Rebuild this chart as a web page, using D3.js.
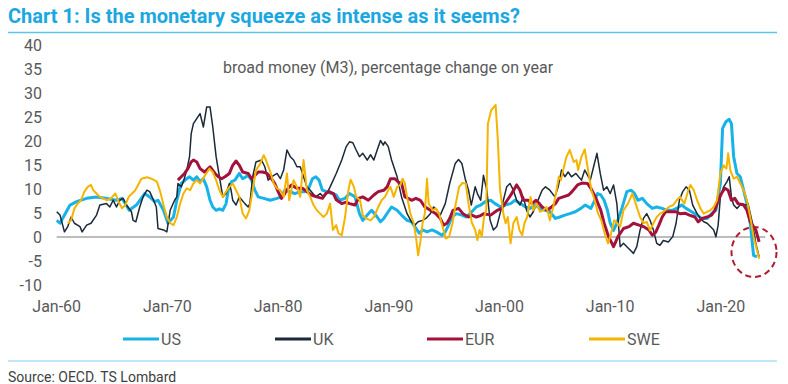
<!DOCTYPE html>
<html>
<head>
<meta charset="utf-8">
<script src="https://cdn.jsdelivr.net/npm/d3@7"></script>
<style>
  body { margin: 0; background: #fff; }
  text { font-family: Roboto, "Liberation Sans", sans-serif; }
</style>
</head>
<body>
<div id="chart"></div>
<script>
// Подписи осей
const tickYears = [1960, 1970, 1980, 1990, 2000, 2010, 2020];
const tickLabels = ["Jan-60", "Jan-70", "Jan-80", "Jan-90", "Jan-00", "Jan-10", "Jan-20"];
const yTicks = [-10, -5, 0, 5, 10, 15, 20, 25, 30, 35, 40];
const seriesNames = ["US", "UK", "EUR", "SWE"];

// Данные: [год, % г/г]
const usData = [
  [1960.0,3.5],[1960.3,2.9],[1961.2,6.7],[1961.8,7.4],[1962.7,8.1],[1963.6,8.4],[1964.4,8.1],[1965.4,7.7],
  [1965.9,8.1],[1966.55,5.6],[1967.2,6.7],[1967.95,9.1],[1968.4,8.4],[1968.85,7.4],[1969.15,7.7],[1969.65,5.6],
  [1970.05,2.9],[1970.55,4.2],[1970.85,7.7],[1971.25,11.2],[1971.75,12.2],[1972.0,12.6],[1972.35,11.9],
  [1972.65,12.6],[1972.95,11.6],[1973.25,12.2],[1973.55,10.5],[1973.85,7.7],[1974.1,6.3],[1974.4,5.6],
  [1974.7,5.9],[1975.0,5.6],[1975.3,7.0],[1975.5,9.8],[1975.8,11.6],[1976.1,11.9],[1976.5,13.3],[1976.8,12.2],
  [1977.3,12.9],[1977.6,11.9],[1977.9,9.8],[1978.2,8.4],[1978.7,8.1],[1979.3,7.7],[1979.9,8.1],[1980.3,8.4],
  [1980.6,9.8],[1981.1,9.5],[1981.5,9.1],[1982.0,9.5],[1982.4,9.5],[1982.7,9.8],[1983.1,12.2],[1983.4,12.6],
  [1983.7,11.9],[1984.0,9.8],[1984.4,9.5],[1984.85,9.1],[1985.25,8.8],[1985.55,7.7],[1986.05,8.1],[1986.45,9.1],
  [1986.95,8.4],[1987.35,4.9],[1987.65,3.5],[1988.05,4.6],[1988.45,5.6],[1988.95,4.2],[1989.25,3.2],[1989.55,3.9],
  [1989.95,5.3],[1990.25,6.3],[1990.75,5.6],[1991.15,4.6],[1991.65,3.5],[1992.05,3.2],[1992.35,2.2],[1992.75,0.8],
  [1993.05,1.5],[1993.45,1.1],[1993.9,1.5],[1994.3,1.1],[1994.8,0.4],[1995.1,1.1],[1995.4,2.5],[1995.7,4.2],
  [1996.1,4.9],[1996.6,4.6],[1997.0,4.2],[1997.5,5.3],[1997.9,6.3],[1998.3,6.7],[1998.7,7.4],[1999.2,7.7],
  [1999.6,7.0],[2000.1,6.3],[2000.5,6.7],[2001.0,7.0],[2001.4,7.7],[2001.9,7.0],[2002.35,6.3],[2002.75,6.0],
  [2003.25,6.7],[2003.65,6.0],[2004.15,5.6],[2004.55,5.3],[2005.05,3.9],[2005.45,4.2],[2005.9,4.6],[2006.35,4.9],
  [2006.85,5.3],[2007.35,6.0],[2007.75,6.7],[2008.25,6.0],[2008.55,7.4],[2008.85,9.1],[2009.15,8.8],[2009.45,7.7],
  [2009.75,5.6],[2010.0,2.9],[2010.3,1.4],[2010.6,2.9],[2011.0,5.6],[2011.5,9.5],[2011.9,9.8],[2012.2,9.1],
  [2012.5,7.7],[2012.9,8.1],[2013.3,7.0],[2013.8,6.0],[2014.2,6.3],[2014.7,6.0],[2015.1,5.6],[2015.6,5.6],
  [2016.0,6.0],[2016.45,6.7],[2016.85,6.0],[2017.35,5.3],[2017.85,4.6],[2018.25,3.9],[2018.75,3.9],[2019.15,4.9],
  [2019.55,5.6],[2019.95,11.2],[2020.15,22.7],[2020.45,24.1],[2020.75,24.6],[2020.95,23.7],[2021.15,16.8],
  [2021.45,13.3],[2021.75,12.6],[2022.05,9.8],[2022.35,7.0],[2022.65,2.9],[2022.95,-3.8],[2023.25,-4.1]
];

const ukData = [
  [1960.0,5.3],[1960.3,4.6],[1960.7,1.1],[1961.0,2.2],[1961.3,4.2],[1961.6,2.9],[1962.1,2.2],[1962.3,1.1],
  [1962.7,2.5],[1963.1,2.9],[1963.6,4.6],[1963.9,6.7],[1964.5,7.0],[1964.8,6.3],[1965.1,7.7],[1965.4,6.3],
  [1965.7,7.7],[1966.0,8.1],[1966.3,6.7],[1966.75,5.3],[1966.9,3.5],[1967.15,3.2],[1967.5,6.3],[1967.8,8.4],
  [1968.15,9.8],[1968.4,9.5],[1968.75,7.7],[1969.0,6.3],[1969.15,1.8],[1969.65,1.5],[1969.95,1.1],[1970.25,5.6],
  [1970.65,7.7],[1970.85,8.4],[1970.95,11.2],[1971.25,10.5],[1971.45,11.6],[1971.75,14.0],[1972.0,16.8],
  [1972.15,21.6],[1972.35,23.7],[1972.95,25.8],[1973.25,23.0],[1973.55,27.2],[1973.85,27.2],[1974.1,23.0],
  [1974.4,16.8],[1974.7,12.6],[1974.9,9.8],[1975.0,8.4],[1975.3,9.1],[1975.6,11.2],[1975.75,9.8],[1975.9,7.7],
  [1976.2,6.7],[1976.5,8.4],[1977.0,7.0],[1977.3,6.3],[1977.45,7.0],[1977.7,12.6],[1978.0,15.7],[1978.5,16.1],
  [1978.8,14.7],[1979.1,11.9],[1979.4,12.6],[1979.9,13.3],[1980.2,12.2],[1980.5,14.0],[1980.8,18.2],[1981.1,16.8],
  [1981.4,16.1],[1981.7,14.7],[1982.0,14.7],[1982.3,12.6],[1982.6,10.5],[1982.9,9.8],[1983.4,8.4],[1983.8,9.1],
  [1984.1,8.4],[1984.4,9.1],[1984.7,10.5],[1985.25,13.3],[1985.75,16.1],[1986.15,18.9],[1986.45,19.9],
  [1986.75,19.7],[1987.05,18.2],[1987.35,16.8],[1987.65,17.5],[1988.05,16.1],[1988.35,17.2],[1988.65,16.1],
  [1988.95,18.2],[1989.25,20.2],[1989.5,19.2],[1989.65,19.9],[1989.95,18.9],[1990.25,16.1],[1990.75,12.6],
  [1991.15,8.4],[1991.65,4.9],[1992.05,3.2],[1992.35,2.5],[1992.65,3.2],[1993.05,3.5],[1993.35,3.9],[1993.75,4.9],
  [1994.05,6.3],[1994.35,5.6],[1994.65,4.6],[1995.1,7.0],[1995.5,11.2],[1996.0,15.4],[1996.3,16.2],[1996.6,15.4],
  [1996.9,12.2],[1997.2,9.8],[1997.45,6.7],[1997.8,10.5],[1998.0,9.1],[1998.3,7.7],[1998.55,12.9],[1998.85,9.8],
  [1999.15,3.5],[1999.45,1.5],[1999.75,2.2],[2000.05,4.9],[2000.35,7.7],[2000.65,10.5],[2000.95,11.2],
  [2001.25,9.8],[2001.55,7.7],[2001.85,6.7],[2002.15,8.4],[2002.45,5.6],[2002.75,4.2],[2003.05,5.3],[2003.35,7.0],
  [2003.85,9.8],[2004.15,10.5],[2004.55,9.8],[2005.0,8.4],[2005.3,10.5],[2005.6,14.0],[2005.9,12.6],[2006.2,13.6],
  [2006.5,12.6],[2006.9,13.3],[2007.4,11.9],[2007.7,14.0],[2008.2,11.9],[2008.5,14.7],[2008.8,17.5],[2009.1,13.3],
  [2009.4,9.8],[2009.7,10.5],[2010.0,9.1],[2010.3,10.9],[2010.6,7.0],[2010.9,-2.0],[2011.2,-1.3],[2011.5,-2.0],
  [2011.8,-2.7],[2012.1,-3.4],[2012.4,-2.0],[2012.7,1.5],[2013.0,3.9],[2013.3,4.9],[2013.6,3.5],[2013.9,1.5],
  [2014.2,-1.3],[2014.5,-1.7],[2014.8,-0.7],[2015.25,-1.0],[2015.65,0.1],[2015.95,2.9],[2016.25,7.7],
  [2016.55,9.5],[2016.85,10.5],[2017.15,9.8],[2017.45,6.7],[2017.85,4.9],[2018.15,3.9],[2018.45,3.2],
  [2018.75,2.9],[2019.05,2.2],[2019.35,1.5],[2019.55,0.1],[2019.75,2.5],[2019.95,8.4],[2020.25,10.5],
  [2020.55,11.6],[2020.75,12.6],[2020.95,8.4],[2021.15,6.7],[2021.45,6.0],[2021.85,7.0],[2022.25,6.7],
  [2022.45,7.0],[2022.85,2.9],[2023.15,-1.3],[2023.45,-4.1]
];

const eurData = [
  [1970.95,11.9],[1971.25,12.6],[1971.55,13.3],[1971.85,14.3],[1972.15,15.7],[1972.35,16.1],[1972.65,15.7],
  [1972.95,14.3],[1973.35,13.6],[1973.85,14.7],[1974.3,13.3],[1974.6,12.6],[1974.9,12.2],[1975.2,12.6],
  [1975.6,13.3],[1975.9,15.0],[1976.2,15.9],[1976.5,15.0],[1976.8,13.6],[1977.3,13.3],[1977.6,12.2],[1977.9,12.9],
  [1978.2,13.6],[1978.6,13.6],[1979.0,13.3],[1979.4,12.2],[1979.7,11.2],[1980.0,9.5],[1980.3,8.1],[1980.6,9.1],
  [1980.9,10.2],[1981.2,10.9],[1981.7,10.2],[1982.2,10.2],[1982.6,9.5],[1983.0,8.8],[1983.5,8.4],[1984.0,8.1],
  [1984.3,9.1],[1984.6,9.5],[1985.0,9.1],[1985.25,7.8],[1985.75,7.0],[1986.15,7.3],[1986.45,7.0],[1986.95,6.7],
  [1987.25,8.1],[1987.65,8.4],[1988.15,7.7],[1988.65,8.8],[1989.05,9.5],[1989.55,9.8],[1989.85,10.5],
  [1990.15,12.2],[1990.55,12.2],[1990.85,11.5],[1991.15,11.2],[1991.45,8.4],[1991.75,8.1],[1992.05,7.7],
  [1992.45,8.1],[1992.85,7.7],[1993.25,6.3],[1993.5,6.0],[1993.75,5.6],[1994.25,4.9],[1994.65,3.9],[1994.95,2.5],
  [1995.25,2.9],[1995.5,3.9],[1995.8,5.6],[1996.3,6.0],[1996.7,4.9],[1997.2,4.2],[1997.5,4.6],[1997.9,4.2],
  [1998.3,4.5],[1998.6,4.9],[1999.2,4.6],[1999.8,5.6],[2000.2,6.0],[2000.7,7.7],[2001.1,9.1],[2001.55,10.9],
  [2001.85,9.8],[2002.15,7.7],[2002.6,7.7],[2002.95,7.0],[2003.3,7.7],[2003.6,7.0],[2003.85,6.3],[2004.3,5.6],
  [2004.7,6.3],[2005.05,7.0],[2005.35,8.1],[2005.75,8.4],[2006.25,8.8],[2006.55,9.5],[2007.05,10.9],
  [2007.45,11.3],[2007.95,11.2],[2008.25,10.2],[2008.65,8.4],[2009.15,5.6],[2009.45,2.9],[2009.85,0.1],
  [2010.3,-2.0],[2010.7,0.1],[2011.2,1.8],[2011.7,2.2],[2012.1,2.9],[2012.6,2.5],[2013.0,2.2],[2013.5,1.5],
  [2013.8,0.4],[2014.1,1.0],[2014.4,2.5],[2014.7,4.2],[2015.0,5.3],[2015.5,5.3],[2015.9,5.3],[2016.3,4.9],
  [2016.75,5.0],[2017.15,4.6],[2017.65,4.2],[2017.95,3.2],[2018.3,3.9],[2018.75,4.2],[2019.15,4.6],[2019.45,5.6],
  [2019.75,7.7],[2020.05,9.1],[2020.35,10.2],[2020.65,9.8],[2020.95,7.7],[2021.25,8.1],[2021.55,7.0],
  [2022.05,6.7],[2022.35,5.6],[2022.65,3.2],[2023.15,1.5],[2023.45,-1.0]
];

const sweData = [
  [1961.0,2.9],[1961.3,3.5],[1961.6,6.0],[1961.9,7.0],[1962.2,7.7],[1962.5,9.5],[1962.8,10.5],[1963.1,10.9],
  [1963.3,9.8],[1963.6,9.1],[1963.9,8.4],[1964.2,8.1],[1964.5,7.7],[1964.9,8.1],[1965.3,9.1],[1965.6,7.4],
  [1965.9,6.0],[1966.2,6.7],[1966.5,8.4],[1966.8,9.1],[1967.1,9.8],[1967.35,10.9],[1967.65,12.2],[1968.15,12.5],
  [1968.55,12.2],[1969.05,11.6],[1969.35,9.5],[1969.65,6.7],[1969.95,4.2],[1970.25,2.9],[1970.55,2.5],
  [1970.85,4.2],[1971.15,7.0],[1971.45,9.1],[1971.75,10.2],[1972.05,9.8],[1972.35,11.2],[1972.65,11.9],
  [1972.95,11.2],[1973.4,12.9],[1973.8,14.3],[1974.1,13.6],[1974.4,11.9],[1974.7,9.8],[1975.0,8.4],[1975.3,9.5],
  [1975.6,10.5],[1975.9,11.2],[1976.2,9.8],[1976.5,8.4],[1976.8,4.9],[1977.1,3.9],[1977.4,5.6],[1977.7,9.8],
  [1978.0,14.0],[1978.4,15.4],[1978.7,17.1],[1978.9,16.1],[1979.3,13.6],[1979.6,11.2],[1979.9,10.2],[1980.2,9.8],
  [1980.5,8.4],[1980.8,13.3],[1981.0,7.7],[1981.4,11.9],[1981.7,10.5],[1982.0,8.4],[1982.3,16.1],[1982.6,9.8],
  [1982.9,8.4],[1983.2,6.7],[1983.5,5.6],[1983.8,4.9],[1984.1,4.2],[1984.4,4.9],[1984.7,7.0],[1984.95,1.5],
  [1985.25,2.5],[1985.45,0.8],[1985.75,0.4],[1986.05,4.2],[1986.35,9.8],[1986.55,12.0],[1986.85,10.5],
  [1987.05,8.4],[1987.4,7.7],[1987.65,4.6],[1987.95,3.9],[1988.35,3.5],[1988.65,4.2],[1989.05,6.3],[1989.35,7.7],
  [1989.65,8.4],[1989.95,9.8],[1990.15,10.5],[1990.45,8.4],[1990.75,10.5],[1991.05,10.9],[1991.25,12.2],
  [1991.45,11.2],[1991.65,8.4],[1991.95,4.9],[1992.25,2.9],[1992.45,0.1],[1992.65,-3.8],[1992.85,-1.0],
  [1993.05,2.9],[1993.25,4.9],[1993.45,12.2],[1993.6,7.0],[1993.95,5.6],[1994.25,6.0],[1994.55,4.9],[1994.85,2.2],
  [1995.15,-0.3],[1995.45,0.1],[1995.75,2.9],[1996.05,7.0],[1996.35,10.5],[1996.65,11.3],[1996.95,11.2],
  [1997.2,7.0],[1997.5,3.0],[1997.8,1.5],[1998.0,-0.6],[1998.2,1.5],[1998.4,0.1],[1998.6,4.2],[1998.8,5.6],
  [1998.95,23.7],[1999.25,26.5],[1999.65,27.6],[1999.85,20.2],[2000.05,9.8],[2000.35,4.9],[2000.55,2.9],
  [2000.75,4.2],[2001.0,-1.3],[2001.25,2.9],[2001.55,4.2],[2001.8,1.5],[2002.05,0.4],[2002.25,2.9],[2002.5,4.2],
  [2002.8,8.4],[2003.05,5.6],[2003.35,7.0],[2003.65,5.3],[2003.95,5.6],[2004.25,6.3],[2004.55,3.5],[2004.85,6.3],
  [2005.15,9.8],[2005.35,12.6],[2005.55,11.9],[2005.75,14.0],[2006.05,16.8],[2006.35,18.2],[2006.7,15.7],
  [2006.95,16.1],[2007.1,14.0],[2007.4,16.8],[2007.7,18.3],[2008.0,14.0],[2008.3,9.8],[2008.6,7.7],[2008.9,4.9],
  [2009.2,3.5],[2009.5,0.8],[2009.8,-1.3],[2010.05,0.5],[2010.35,3.5],[2010.6,3.0],[2010.9,2.2],[2011.2,5.6],
  [2011.6,7.0],[2012.0,9.1],[2012.3,7.0],[2012.7,4.2],[2013.0,2.9],[2013.3,3.2],[2013.6,1.4],[2013.9,2.9],
  [2014.2,4.2],[2014.5,4.9],[2014.8,5.3],[2015.3,6.3],[2015.7,6.7],[2016.0,7.7],[2016.3,8.4],[2016.7,7.0],
  [2017.05,9.8],[2017.25,10.9],[2017.55,9.8],[2017.85,7.7],[2018.15,6.0],[2018.45,4.9],[2018.75,5.3],
  [2019.05,5.6],[2019.35,6.3],[2019.65,7.7],[2019.95,13.3],[2020.25,15.0],[2020.5,14.3],[2020.65,17.5],
  [2020.85,14.0],[2021.15,12.2],[2021.45,12.6],[2021.75,11.2],[2022.05,9.8],[2022.35,7.7],[2022.65,4.2],
  [2022.95,0.1],[2023.45,-4.5]
];

const seriesData = [usData, ukData, eurData, sweData];
const seriesColors = ["#17b2e8", "#1b2939", "#a3123a", "#f5b400"];
const seriesWidths = [3, 1.5, 3, 2];

function drawChart() {
  const width = 788;
  const height = 384;

  const svg = d3.select("#chart")
    .append("svg")
    .attr("width", width)
    .attr("height", height);

  // Заголовок
  svg.append("text")
    .attr("x", 8)
    .attr("y", 23)
    .attr("fill", "#1ba7e1")
    .style("font-size", "20px")
    .style("font-weight", "700")
    .text("Chart 1: Is the monetary squeeze as intense as it seems?");

  svg.append("line")
    .attr("x1", 8).attr("x2", 777)
    .attr("y1", 32.5).attr("y2", 32.5)
    .attr("stroke", "#5cc3ea")
    .attr("stroke-width", 1.5);

  // Шкалы
  const x = d3.scaleLinear().domain([1960, 2024]).range([56.7, 765.2]);
  const y = d3.scaleLinear().domain([-10, 40]).range([285, 45.6]);

  // Подзаголовок
  svg.append("text")
    .attr("x", 388)
    .attr("y", 73)
    .attr("text-anchor", "middle")
    .attr("fill", "#595959")
    .style("font-size", "16px")
    .text("broad money (M3), percentage change on year");

  // Ось Y
  svg.append("g")
    .selectAll("text")
    .data(yTicks)
    .enter()
    .append("text")
    .attr("x", 42)
    .attr("y", d => y(d))
    .attr("dy", "0.35em")
    .attr("text-anchor", "end")
    .attr("fill", "#595959")
    .style("font-size", "16px")
    .text(d => d);

  // Ось X: линия нуля и подписи
  svg.append("line")
    .attr("x1", x(1960)).attr("x2", x(2024))
    .attr("y1", y(0)).attr("y2", y(0))
    .attr("stroke", "#a6a6a6")
    .attr("stroke-width", 1.5);

  svg.append("g")
    .selectAll("text")
    .data(tickYears)
    .enter()
    .append("text")
    .attr("x", d => x(d))
    .attr("y", 306)
    .attr("dy", "0.35em")
    .attr("text-anchor", "middle")
    .attr("fill", "#595959")
    .style("font-size", "16px")
    .text((d, i) => tickLabels[i]);

  // Линии рядов
  const line = d3.line()
    .x(d => x(d[0]))
    .y(d => y(d[1]));

  seriesData.forEach((data, i) => {
    svg.append("path")
      .datum(data)
      .attr("d", line)
      .attr("fill", "none")
      .attr("stroke", seriesColors[i])
      .attr("stroke-width", seriesWidths[i])
      .attr("stroke-linejoin", "round");
  });

  // Красный пунктирный круг
  svg.append("ellipse")
    .attr("cx", 754).attr("cy", 252)
    .attr("rx", 22.5).attr("ry", 25)
    .attr("fill", "none")
    .attr("stroke", "#b01c2e")
    .attr("stroke-width", 2)
    .attr("stroke-dasharray", "6,4");

  // Легенда
  const legendX = [123, 275, 427, 589];
  const legend = svg.append("g")
    .selectAll("g")
    .data(seriesNames)
    .enter()
    .append("g")
    .attr("transform", (d, i) => `translate(${legendX[i]},339)`);

  legend.append("line")
    .attr("x1", 0).attr("x2", 36)
    .attr("stroke", (d, i) => seriesColors[i])
    .attr("stroke-width", 3);

  legend.append("text")
    .attr("x", 38)
    .attr("dy", "0.35em")
    .attr("fill", "#595959")
    .style("font-size", "16px")
    .text(d => d);

  // Нижняя линия и источник
  svg.append("line")
    .attr("x1", 8).attr("x2", 777)
    .attr("y1", 361).attr("y2", 361)
    .attr("stroke", "#7fd0ee")
    .attr("stroke-width", 1);

  svg.append("text")
    .attr("x", 8)
    .attr("y", 382)
    .attr("fill", "#404040")
    .style("font-size", "14px")
    .text("Source: OECD. TS Lombard");
}

drawChart();
</script>
</body>
</html>
